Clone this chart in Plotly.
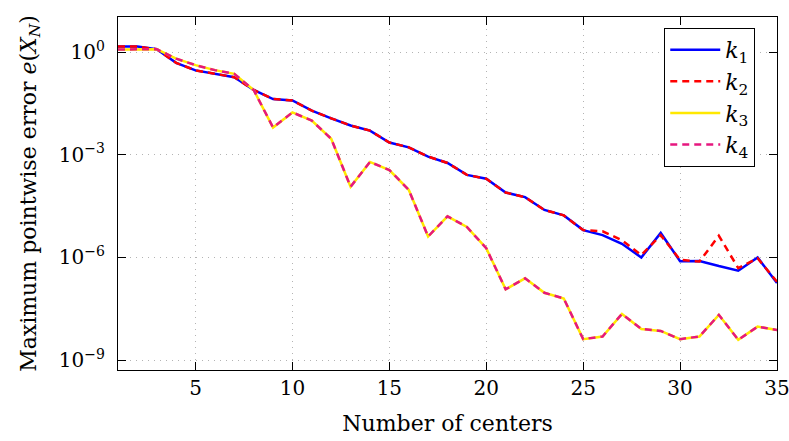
import plotly.graph_objects as go

n_centers = list(range(1, 36))

k1 = [1.46, 1.46, 1.23, 0.49, 0.295, 0.24, 0.186, 0.079, 0.0427, 0.0389,
      0.0195, 0.0117, 7.2e-3, 5.1e-3, 2.3e-3, 1.66e-3, 8.9e-4, 5.8e-4, 2.6e-4, 2.0e-4,
      7.9e-5, 5.8e-5, 2.45e-5, 1.7e-5, 6.3e-6, 4.5e-6, 2.5e-6, 1.0e-6, 5.2e-6, 7.8e-7,
      7.9e-7, 5.6e-7, 4.1e-7, 1.0e-6, 1.8e-7]

k2 = [1.46, 1.46, 1.23, 0.49, 0.295, 0.24, 0.186, 0.079, 0.0427, 0.0389,
      0.0195, 0.0117, 7.2e-3, 5.1e-3, 2.3e-3, 1.66e-3, 8.9e-4, 5.8e-4, 2.6e-4, 2.0e-4,
      7.9e-5, 5.8e-5, 2.45e-5, 1.7e-5, 6.3e-6, 5.8e-6, 3.2e-6, 1.17e-6, 4.5e-6, 8.5e-7,
      7.6e-7, 4.3e-6, 4.9e-7, 9.5e-7, 1.95e-7]

k3 = [1.20, 1.20, 1.23, 0.65, 0.42, 0.30, 0.234, 0.079, 6.3e-3, 0.0174,
      0.010, 2.95e-3, 1.17e-4, 6.2e-4, 3.6e-4, 9.5e-5, 4.1e-6, 1.6e-5, 7.8e-6, 1.86e-6,
      1.17e-7, 2.45e-7, 9.3e-8, 6.3e-8, 4.1e-9, 4.9e-9, 2.24e-8, 8.1e-9, 7.1e-9, 4.1e-9,
      4.9e-9, 2.1e-8, 3.9e-9, 9.5e-9, 7.6e-9]

k4 = [1.20, 1.20, 1.23, 0.65, 0.42, 0.30, 0.234, 0.079, 6.3e-3, 0.0174,
      0.010, 2.95e-3, 1.17e-4, 6.2e-4, 3.6e-4, 9.5e-5, 4.1e-6, 1.6e-5, 7.8e-6, 1.86e-6,
      1.17e-7, 2.45e-7, 9.3e-8, 6.3e-8, 4.1e-9, 4.9e-9, 2.24e-8, 8.1e-9, 7.1e-9, 4.1e-9,
      4.9e-9, 2.1e-8, 3.9e-9, 9.5e-9, 7.6e-9]

series = [
    ("<i>k</i><sub>1</sub>", k1, "#0000ff", "solid"),
    ("<i>k</i><sub>2</sub>", k2, "#ff0000", "7px,5px"),
    ("<i>k</i><sub>3</sub>", k3, "#ffe800", "solid"),
    ("<i>k</i><sub>4</sub>", k4, "#e6177f", "7px,5px"),
]

x_ticks = [5, 10, 15, 20, 25, 30, 35]
y_ticks = [1, 1e-3, 1e-6, 1e-9]
y_tick_text = ["10<sup>0</sup>", "10<sup>−3</sup>", "10<sup>−6</sup>", "10<sup>−9</sup>"]

FONT = "DejaVu Serif"

fig = go.Figure()
for name, vals, color, dash in series:
    fig.add_trace(go.Scatter(x=n_centers, y=vals, mode="lines", name=name,
                             line=dict(color=color, width=2.5, dash=dash)))

axis_common = dict(showline=True, linecolor="black", linewidth=1.3, mirror="allticks",
                   ticks="inside", ticklen=8, tickwidth=1.2, tickcolor="black",
                   showgrid=True, gridcolor="#b4b4b4", gridwidth=1, griddash="1px,5px",
                   zeroline=False, automargin=False, ticklabeloverflow="allow",
                   tickfont=dict(family=FONT, size=20, color="black"))

fig.update_xaxes(range=[1, 35], tickvals=x_ticks,
                 title=dict(text="Number of centers", font=dict(family=FONT, size=22, color="black"),
                            standoff=16),
                 **axis_common)
fig.update_yaxes(type="log", range=[-9.29, 1.03], tickvals=y_ticks, ticktext=y_tick_text,
                 ticklabelstandoff=8,
                 title=dict(text="Maximum pointwise error <i>e</i>(<i>X</i><sub><i>N</i></sub>)",
                            font=dict(family=FONT, size=22, color="black"), standoff=16),
                 **axis_common)

fig.update_layout(
    width=789, height=441,
    margin=dict(l=118, r=12, t=17, b=71, autoexpand=False),
    paper_bgcolor="white", plot_bgcolor="white",
    font=dict(family=FONT, color="black"),
    showlegend=True,
    legend=dict(x=0.967, y=0.969, xanchor="right", yanchor="top",
                bgcolor="white", bordercolor="black", borderwidth=1,
                font=dict(family=FONT, size=22, color="black"),
                tracegroupgap=0, itemwidth=50),
)

fig.write_html("out.html")
